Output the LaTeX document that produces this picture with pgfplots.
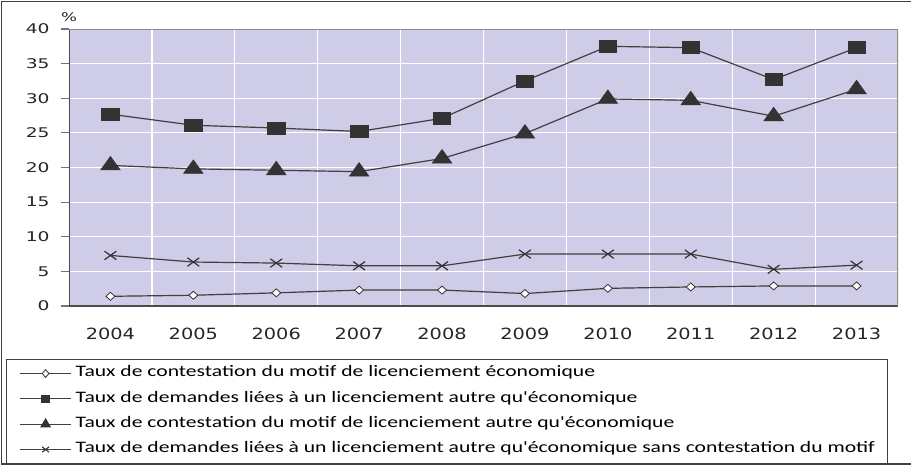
\documentclass[border=0pt]{standalone}
\usepackage{fontspec}
\setmainfont{Carlito}
\usepackage{pgfplots}
\pgfplotsset{compat=1.18}
\newfontfamily\yfont[FakeStretch=1.4]{DejaVu Sans}
\newfontfamily\xfont[FakeStretch=1.25]{DejaVu Sans}
\newfontfamily\legfont[FakeStretch=1.35]{Carlito}
\definecolor{bgplot}{RGB}{206,204,230}
\definecolor{ser}{RGB}{64,64,64}
\definecolor{mk}{RGB}{51,51,51}
\begin{document}
\begin{tikzpicture}
\useasboundingbox (0,0) rectangle (683.25pt,348.75pt);
\draw[line width=1.1pt, black!75] (684pt,347.8pt) -- (1.1pt,347.8pt) -- (1.1pt,0.75pt) -- (684pt,0.75pt);
\begin{axis}[
  name=main,
  at={(51.75pt,119.25pt)}, anchor=south west,
  scale only axis, width=621.75pt, height=207.75pt,
  xmin=-0.5, xmax=9.5, ymin=0, ymax=40,
  axis background/.style={fill=bgplot},
  axis line style={draw=none},
  xtick={0,1,2,3,4,5,6,7,8,9},
  xticklabels={2004,2005,2006,2007,2008,2009,2010,2011,2012,2013},
  minor xtick={0.5,1.5,2.5,3.5,4.5,5.5,6.5,7.5,8.5},
  ytick={0,5,10,15,20,25,30,35,40},
  xminorgrids, ymajorgrids, xmajorgrids=false,
  major grid style={white, line width=0.9pt},
  minor grid style={white, line width=0.9pt},
  tick align=outside, ytick pos=left, xtick pos=bottom,
  major x tick style={draw=none}, minor x tick style={draw=none},
  major tick length=6pt,
  y tick style={black!55, line width=0.8pt},
  /pgf/number format/assume math mode=true,
  yticklabel style={font=\yfont\fontsize{10}{11}\selectfont, text=black!85, xshift=-5pt},
  xticklabel style={font=\xfont\fontsize{11.6}{12}\selectfont, text=black!85, yshift=-6.75pt},
  legend image code/.code={\draw[#1, mark repeat=2, mark phase=2] plot coordinates {(0pt,0pt) (19.1pt,0pt) (38.25pt,0pt)};},
  legend cell align=left,
  legend style={at={(-0.076,-0.1913)}, anchor=north west, draw=black!75, line width=0.8pt,
    fill=white, font=\legfont\fontsize{12}{14}\selectfont,
    inner xsep=9.75pt, inner ysep=5pt, row sep=8pt, column sep=3pt,
    nodes={inner sep=0pt, text height=8pt, text depth=3pt}},
]
\addplot[ser, line width=0.9pt, mark=diamond*, mark size=3pt, mark options={fill=white, draw=mk, line width=0.6pt, xscale=1.5}, forget plot]
  coordinates {(0,1.4) (1,1.55) (2,1.9) (3,2.3) (4,2.3) (5,1.8) (6,2.55) (7,2.75) (8,2.9) (9,2.9)};
\addplot[ser, line width=0.9pt, mark=square*, mark size=4.5pt, mark options={fill=mk, draw=mk, line width=0.4pt, xscale=1.45}, forget plot]
  coordinates {(0,27.7) (1,26.1) (2,25.7) (3,25.2) (4,27.1) (5,32.5) (6,37.5) (7,37.3) (8,32.7) (9,37.3)};
\addplot[ser, line width=0.9pt, mark=triangle*, mark size=6.8pt, mark options={fill=mk, draw=mk, line width=0.4pt, xscale=1.25}, forget plot]
  coordinates {(0,20.3) (1,19.8) (2,19.6) (3,19.4) (4,21.3) (5,24.9) (6,29.9) (7,29.7) (8,27.4) (9,31.3)};
\addplot[ser, line width=0.9pt, mark=x, mark size=4.5pt, mark options={draw=mk, line width=0.9pt, xscale=1.4}, forget plot]
  coordinates {(0,7.3) (1,6.35) (2,6.2) (3,5.8) (4,5.8) (5,7.5) (6,7.5) (7,7.5) (8,5.3) (9,5.9)};
\addlegendimage{ser, line width=0.9pt, mark=diamond*, mark size=3pt, mark options={fill=white, draw=mk, line width=0.6pt, xscale=1.1}}
\addlegendentry{Taux de contestation du motif de licenciement économique}
\addlegendimage{ser, line width=0.9pt, mark=square*, mark size=2.6pt, mark options={fill=mk, draw=mk, xscale=1.1}}
\addlegendentry{Taux de demandes liées à un licenciement autre qu'économique}
\addlegendimage{ser, line width=0.9pt, mark=triangle*, mark size=3.8pt, mark options={fill=mk, draw=mk}}
\addlegendentry{Taux de contestation du motif de licenciement autre qu'économique}
\addlegendimage{ser, line width=0.9pt, mark=x, mark size=2.8pt, mark options={draw=mk, line width=0.8pt, xscale=1.3}}
\addlegendentry{Taux de demandes liées à un licenciement autre qu'économique sans contestation du motif}
\draw[black!70, line width=1.1pt] (rel axis cs:0,1) -- (rel axis cs:0,0) -- (rel axis cs:1,0);
\draw[black!45, line width=1.1pt] (rel axis cs:0,1) -- (rel axis cs:1,1) -- (rel axis cs:1,0);
\end{axis}
\node[font=\yfont\fontsize{9}{10}\selectfont, text=black!85] at ([yshift=9pt]main.north west) {\%};
\end{tikzpicture}
\end{document}
